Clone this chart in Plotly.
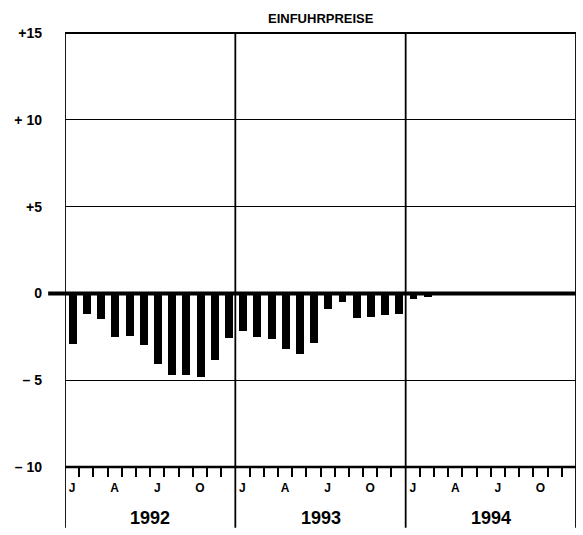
import plotly.graph_objects as go

# ---- data ----
years = ["1992", "1993", "1994"]
month_letters = ["J", "A", "J", "O"]
month_letter_idx = [0, 3, 6, 9]
values_1992 = [-2.9, -1.2, -1.5, -2.5, -2.45, -3.0, -4.05, -4.7, -4.7, -4.8, -3.85, -2.55]
values_1993 = [-2.15, -2.5, -2.6, -3.2, -3.5, -2.85, -0.9, -0.5, -1.4, -1.35, -1.25, -1.2]
values_1994 = [-0.3, -0.2]
y_ticks = [-10, -5, 0, 5, 10, 15]
y_tick_text = ["\u2013 10", "\u2013 5", "0", "+5", "+ 10", "+15"]
title_text = "EINFUHRPREISE"

values = values_1992 + values_1993 + values_1994
x_pos = [i + 0.55 for i in range(len(values))]
n_months = 12 * len(years)

W, H = 583, 535
L, R, T, B = 65, 7, 33, 68

font = "Liberation Sans, Arial, sans-serif"

fig = go.Figure()
fig.add_trace(go.Bar(x=x_pos, y=values, width=0.56,
                     marker=dict(color="black", line=dict(width=0)),
                     showlegend=False, hoverinfo="skip"))

label_vals = [y * 12 + m + 0.5 for y in range(len(years)) for m in month_letter_idx]
label_text = [month_letters[k] for y in range(len(years)) for k in range(len(month_letters))]
minor_vals = [i for i in range(1, n_months) if i % 12 != 0]

fig.update_layout(
    width=W, height=H,
    margin=dict(l=L, r=R, t=T, b=B),
    plot_bgcolor="white", paper_bgcolor="white",
    bargap=0,
    xaxis=dict(range=[0, n_months], tickmode="array", tickvals=label_vals, ticktext=label_text,
               ticks="", showgrid=False, zeroline=False, showline=False,
               tickfont=dict(family=font, size=12, color="black", weight="bold"),
               ticklabelstandoff=12,
               minor=dict(tickmode="array", tickvals=minor_vals, ticks="outside", ticklen=9,
                          tickwidth=2, tickcolor="black", showgrid=False)),
    yaxis=dict(range=[-10, 15], tickmode="array", tickvals=y_ticks, ticktext=y_tick_text,
               ticks="", showgrid=True, gridcolor="black", gridwidth=1.3, zeroline=False,
               showline=False,
               tickfont=dict(family=font, size=14, color="black", weight="bold"),
               ticklabelstandoff=22),
)

shapes = []
for k in range(len(years) + 1):
    shapes.append(dict(type="line", xref="x", yref="paper", x0=12 * k, x1=12 * k,
                       y0=-0.14, y1=1, line=dict(color="black", width=1.8)))
shapes.append(dict(type="line", xref="paper", yref="paper", x0=0, x1=1, y0=1, y1=1,
                   line=dict(color="black", width=1.8)))
shapes.append(dict(type="line", xref="paper", yref="paper", x0=0, x1=1, y0=0, y1=0,
                   line=dict(color="black", width=2.5)))
shapes.append(dict(type="line", xref="paper", yref="y", x0=-0.033, x1=1, y0=0, y1=0,
                   line=dict(color="black", width=4)))
fig.update_layout(shapes=shapes)

annotations = [dict(text=title_text, xref="paper", yref="paper", x=0.5, y=1,
                    yanchor="middle", yshift=15, showarrow=False,
                    font=dict(family=font, size=13, color="black", weight="bold"))]
for k, yr in enumerate(years):
    annotations.append(dict(text=yr, xref="x", yref="paper", x=12 * k + 6, y=0,
                            yanchor="middle", yshift=-51, showarrow=False,
                            font=dict(family=font, size=18, color="black", weight="bold")))
fig.update_layout(annotations=annotations)

fig.write_html("out.html", config={"displayModeBar": False},
               post_script="document.body.style.margin='0px';")
